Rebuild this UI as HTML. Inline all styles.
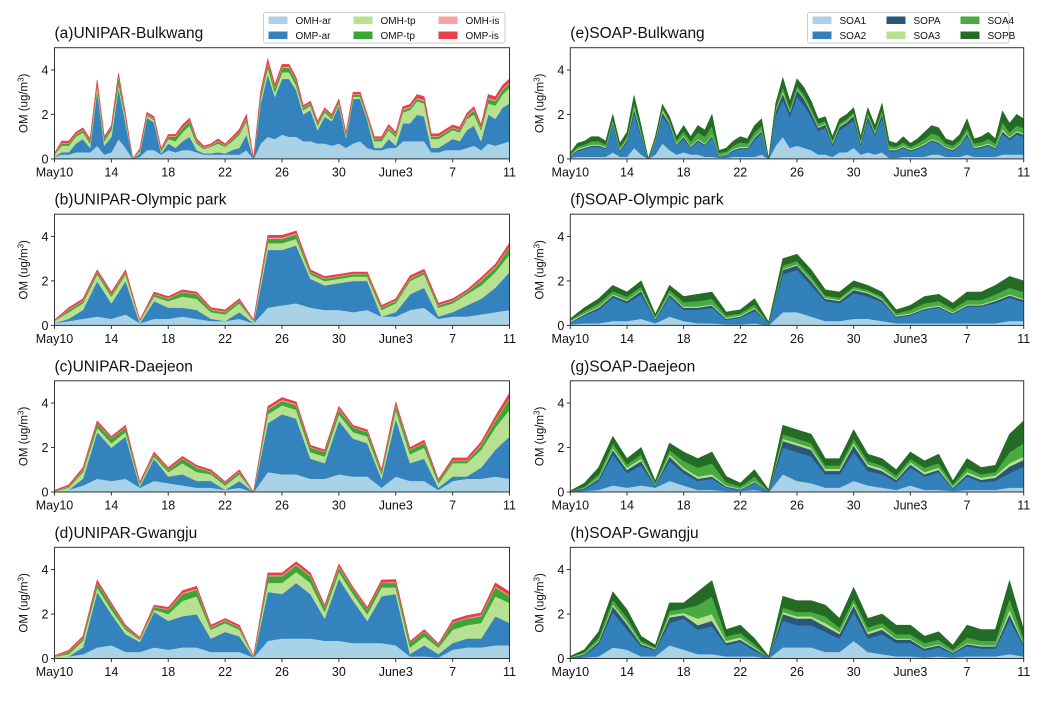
<!DOCTYPE html>
<html><head><meta charset="utf-8"><style>
html,body{margin:0;padding:0;background:#fff;}
svg{display:block;font-family:"Liberation Sans","DejaVu Sans",sans-serif;}
</style></head><body>
<svg id="fig" width="1063" height="701" viewBox="0 0 1063 701"></svg>
<script>
// ---------- data (time grid: May10 = day 0 to June11 = day 32) ----------
const xTickLabels = ["May10","14","18","22","26","30","June3","7","11"];
const xTickDays = [0,4,8,12,16,20,24,28,32];
const yTicks = [0,2,4];
const leftSeries = ["OMH-ar","OMP-ar","OMH-tp","OMP-tp","OMH-is","OMP-is"];
const rightSeries = ["SOA1","SOA2","SOPA","SOA3","SOA4","SOPB"];

// (a) UNIPAR-Bulkwang, 12-hourly
const a_OMHar = [0.1,0.2,0.2,0.3,0.3,0.3,0.6,0.2, 0.3,0.9,0.5,0,0.1,0.4,0.4,0.2, 0.4,0.3,0.4,0.4,0.3,0.2,0.2,0.2, 0.2,0.2,0.2,0.4,0,0.7,1.0,0.9, 1.1,1.0,1.0,0.8,0.8,0.7,0.7,0.6, 0.7,0.5,0.7,0.8,0.5,0.4,0.4,0.5, 0.5,0.8,0.8,0.8,0.8,0.3,0.3,0.4, 0.4,0.4,0.5,0.6,0.4,0.7,0.6,0.7, 0.8];
const a_OMPar = [0,0.1,0.1,0.4,0.6,0.2,2.5,0.4, 0.7,2.3,1.1,0,0.15,1.45,1.25,0.05, 0.3,0.2,0.4,0.6,0.1,0.05,0.05,0.1, 0.05,0.2,0.3,0.7,0,1.8,2.8,1.9, 2.5,2.6,2.1,1.2,1.4,0.6,1.2,1.1, 1.7,0.45,2.0,1.9,1.25,0.1,0.1,0.4, 0.1,0.8,0.8,1.2,1.1,0.2,0.2,0.3, 0.5,0.4,0.8,0.9,0.4,1.3,1.2,1.6, 1.7];
const a_OMHtp = [0.1,0.3,0.3,0.3,0.3,0.2,0.2,0.2, 0.3,0.2,0.2,0,0.1,0.1,0.1,0.1, 0.2,0.3,0.4,0.5,0.3,0.2,0.3,0.4, 0.3,0.4,0.6,0.6,0,0.2,0.3,0.2, 0.3,0.3,0.2,0.2,0.2,0.2,0.2,0.1, 0.1,0.1,0.1,0.1,0.1,0.3,0.3,0.4, 0.4,0.5,0.6,0.6,0.6,0.4,0.4,0.4, 0.4,0.4,0.5,0.5,0.5,0.5,0.6,0.6, 0.7];
const a_OMPtp = [0,0.1,0.1,0.1,0.1,0.1,0.1,0.1, 0.1,0.3,0.1,0,0.05,0.05,0.05,0.05, 0.1,0.2,0.2,0.2,0.1,0.05,0.05,0.1, 0.05,0.1,0.1,0.1,0,0.2,0.2,0.2, 0.2,0.2,0.2,0.1,0.1,0.1,0.1,0.1, 0.1,0.05,0.1,0.1,0.05,0.1,0.1,0.1, 0.1,0.1,0.1,0.1,0.1,0.1,0.1,0.1, 0.1,0.1,0.1,0.2,0.1,0.2,0.2,0.2, 0.2];
const a_OMHis = [0.02,0.03,0.03,0.03,0.03,0.03,0.05,0.03, 0.03,0.05,0.03,0,0.02,0.03,0.03,0.02, 0.03,0.03,0.03,0.03,0.03,0.03,0.03,0.03, 0.03,0.03,0.03,0.05,0,0.05,0.05,0.05, 0.05,0.05,0.05,0.03,0.03,0.03,0.03,0.03, 0.03,0.03,0.03,0.03,0.03,0.03,0.03,0.05, 0.03,0.05,0.05,0.05,0.05,0.03,0.03,0.03, 0.03,0.03,0.05,0.05,0.03,0.05,0.05,0.05, 0.05];
const a_OMPis = [0.03,0.07,0.07,0.07,0.07,0.07,0.1,0.07, 0.07,0.1,0.07,0,0.05,0.07,0.07,0.05, 0.07,0.07,0.1,0.1,0.07,0.05,0.05,0.07, 0.05,0.07,0.1,0.15,0,0.1,0.15,0.1, 0.1,0.1,0.1,0.07,0.07,0.07,0.07,0.07, 0.07,0.05,0.07,0.07,0.07,0.07,0.07,0.1, 0.07,0.1,0.1,0.15,0.15,0.1,0.1,0.1, 0.1,0.1,0.1,0.1,0.1,0.15,0.15,0.15, 0.15];

// (b) UNIPAR-Olympic park, daily
const b_OMHar = [0.1,0.2,0.3,0.4,0.3,0.5,0.1,0.3, 0.3,0.4,0.3,0.2,0.2,0.3,0.1,0.8, 0.9,1.0,0.8,0.7,0.7,0.6,0.7,0.4, 0.4,0.7,0.8,0.3,0.4,0.4,0.5,0.6, 0.7];
const b_OMPar = [0,0.1,0.4,1.6,0.7,1.5,0,0.8, 0.5,0.4,0.4,0.1,0,0.3,0,2.6, 2.5,2.6,1.3,1.1,1.2,1.4,1.3,0, 0.2,0.7,0.9,0.1,0.2,0.5,0.7,1.1, 1.7];
const b_OMHtp = [0.1,0.3,0.3,0.3,0.3,0.3,0.1,0.2, 0.3,0.5,0.5,0.3,0.3,0.4,0.1,0.3, 0.3,0.3,0.2,0.2,0.2,0.2,0.2,0.3, 0.4,0.6,0.6,0.4,0.4,0.5,0.6,0.7, 0.8];
const b_OMPtp = [0,0.1,0.1,0.1,0.1,0.1,0,0.1, 0.1,0.2,0.2,0.1,0.1,0.1,0,0.2, 0.2,0.2,0.1,0.1,0.1,0.1,0.1,0.1, 0.1,0.1,0.1,0.1,0.1,0.1,0.2,0.2, 0.3];
const b_OMHis = [0.02,0.03,0.03,0.03,0.03,0.03,0.02,0.03, 0.03,0.03,0.03,0.03,0.03,0.03,0.02,0.05, 0.05,0.05,0.03,0.03,0.03,0.03,0.03,0.03, 0.03,0.03,0.03,0.03,0.03,0.03,0.05,0.05, 0.05];
const b_OMPis = [0.03,0.07,0.07,0.07,0.07,0.07,0.03,0.07, 0.07,0.07,0.07,0.07,0.07,0.07,0.03,0.1, 0.1,0.1,0.07,0.07,0.07,0.07,0.07,0.07, 0.07,0.1,0.1,0.07,0.07,0.07,0.1,0.1, 0.15];

// (c) UNIPAR-Daejeon, daily
const c_OMHar = [0,0.1,0.3,0.6,0.5,0.6,0.2,0.5, 0.4,0.3,0.2,0.2,0.1,0.2,0,0.9, 0.8,0.8,0.6,0.6,0.8,0.7,0.7,0.2, 0.7,0.5,0.5,0.1,0.5,0.6,0.6,0.7, 0.6];
const c_OMPar = [0,0,0.3,2.1,1.5,1.9,0.05,1.0, 0.3,0.5,0.3,0.3,0,0.3,0,2.2, 2.7,2.5,0.9,0.7,2.4,1.7,1.5,0.4, 2.6,0.8,1.0,0.1,0.2,0.1,0.5,1.2, 1.9];
const c_OMHtp = [0.03,0.1,0.3,0.2,0.2,0.2,0.1,0.1, 0.2,0.5,0.4,0.3,0.2,0.3,0,0.4, 0.4,0.4,0.3,0.3,0.3,0.3,0.3,0.2, 0.4,0.4,0.5,0.2,0.6,0.6,0.8,1.0, 1.2];
const c_OMPtp = [0.02,0.05,0.1,0.2,0.2,0.2,0.05,0.1, 0.1,0.2,0.2,0.1,0.1,0.1,0,0.2, 0.2,0.2,0.2,0.2,0.2,0.2,0.2,0.1, 0.2,0.2,0.2,0.1,0.1,0.1,0.2,0.3, 0.5];
const c_OMHis = [0.01,0.02,0.03,0.03,0.03,0.03,0.02,0.03, 0.03,0.03,0.03,0.03,0.02,0.03,0,0.05, 0.05,0.05,0.03,0.03,0.05,0.03,0.03,0.03, 0.05,0.03,0.03,0.02,0.03,0.03,0.05,0.05, 0.05];
const c_OMPis = [0.02,0.05,0.07,0.07,0.07,0.07,0.03,0.07, 0.07,0.07,0.07,0.07,0.05,0.07,0,0.1, 0.1,0.1,0.07,0.07,0.1,0.07,0.07,0.07, 0.1,0.07,0.1,0.05,0.1,0.1,0.1,0.15, 0.2];

// (d) UNIPAR-Gwangju, daily
const d_OMHar = [0.05,0.1,0.2,0.5,0.6,0.3,0.3,0.5, 0.4,0.5,0.5,0.3,0.3,0.3,0.05,0.8, 0.9,0.9,0.9,0.8,0.8,0.7,0.7,0.7, 0.6,0.1,0.1,0.05,0.4,0.5,0.5,0.6, 0.6];
const d_OMPar = [0,0,0.3,2.5,1.4,0.8,0.45,1.6, 1.3,1.4,1.5,0.6,0.9,0.7,0,2.2, 2.0,2.5,2.0,1.0,2.8,1.9,1.0,2.1, 2.3,0.1,0.5,0.15,0.3,0.4,0.4,1.3, 1.0];
const d_OMHtp = [0.03,0.1,0.3,0.2,0.2,0.2,0.1,0.1, 0.3,0.7,0.8,0.4,0.4,0.3,0.05,0.4, 0.5,0.5,0.5,0.3,0.3,0.3,0.3,0.4, 0.3,0.3,0.4,0.3,0.6,0.6,0.7,0.9, 0.9];
const d_OMPtp = [0.02,0.1,0.1,0.2,0.2,0.1,0.05,0.1, 0.2,0.3,0.3,0.1,0.1,0.1,0,0.3, 0.3,0.3,0.3,0.2,0.2,0.2,0.2,0.2, 0.2,0.2,0.2,0.1,0.3,0.3,0.3,0.4, 0.3];
const d_OMHis = [0.01,0.02,0.03,0.03,0.03,0.03,0.02,0.03, 0.03,0.05,0.05,0.03,0.03,0.03,0,0.05, 0.05,0.05,0.05,0.03,0.05,0.03,0.03,0.03, 0.05,0.02,0.03,0.02,0.03,0.03,0.05,0.05, 0.05];
const d_OMPis = [0.02,0.05,0.07,0.1,0.07,0.07,0.03,0.07, 0.07,0.1,0.1,0.07,0.07,0.07,0,0.1, 0.1,0.1,0.1,0.07,0.1,0.07,0.07,0.1, 0.1,0.05,0.07,0.05,0.1,0.1,0.1,0.15, 0.15];

// (e) SOAP-Bulkwang, 12-hourly
const e_SOA1 = [0.05,0.1,0.1,0.1,0.1,0.1,0.3,0.1, 0.1,0.5,0.2,0,0.2,0.7,0.4,0.2, 0.3,0.2,0.2,0.1,0.1,0.05,0.05,0.1, 0.1,0.1,0.1,0.2,0,0.6,1.0,0.5, 0.6,0.5,0.4,0.2,0.2,0.1,0.3,0.3, 0.5,0.2,0.3,0.2,0.3,0.05,0.05,0.1, 0.1,0.1,0.1,0.2,0.2,0.1,0.1,0.1, 0.2,0.1,0.1,0.1,0.1,0.2,0.2,0.2, 0.2];
const e_SOA2 = [0.08,0.25,0.35,0.45,0.45,0.35,1.25,0.25, 0.65,1.55,0.8,0,0.55,1.2,1.1,0.4, 0.6,0.3,0.6,0.5,0.85,0.08,0.13,0.25, 0.35,0.35,0.75,0.95,0,1.35,1.65,1.4, 2.2,1.9,1.5,1.05,1.2,0.5,1.0,1.2, 1.25,0.4,1.45,0.85,1.55,0.3,0.3,0.4, 0.25,0.35,0.5,0.6,0.5,0.35,0.25,0.5, 0.85,0.35,0.4,0.5,0.35,0.95,0.65,0.9, 0.8];
const e_SOPA = [0.02,0.05,0.05,0.05,0.05,0.05,0.1,0.05, 0.1,0.2,0.1,0,0.05,0.2,0.1,0.05, 0.1,0.05,0.05,0.05,0.1,0.02,0.02,0.05, 0.05,0.05,0.1,0.1,0,0.2,0.3,0.2, 0.3,0.3,0.2,0.15,0.15,0.1,0.15,0.15, 0.2,0.1,0.2,0.1,0.2,0.05,0.05,0.05, 0.05,0.05,0.05,0.05,0.05,0.05,0.05,0.05, 0.1,0.05,0.05,0.05,0.05,0.1,0.1,0.1, 0.1];
const e_SOA3 = [0.02,0.05,0.05,0.05,0.05,0.05,0.05,0.05, 0.05,0.1,0.05,0,0.05,0.1,0.05,0.05, 0.05,0.05,0.05,0.05,0.05,0.03,0.03,0.05, 0.05,0.05,0.05,0.05,0,0.05,0.1,0.05, 0.05,0.05,0.05,0.05,0.05,0.05,0.05,0.05, 0.05,0.05,0.05,0.05,0.05,0.05,0.05,0.05, 0.05,0.05,0.05,0.05,0.05,0.05,0.05,0.05, 0.05,0.05,0.05,0.05,0.05,0.1,0.05,0.05, 0.05];
const e_SOA4 = [0.05,0.1,0.1,0.15,0.15,0.1,0.1,0.1, 0.1,0.2,0.15,0,0.05,0.1,0.1,0.15, 0.2,0.2,0.3,0.3,0.4,0.1,0.1,0.15, 0.2,0.15,0.2,0.2,0,0.1,0.2,0.15, 0.15,0.15,0.15,0.15,0.1,0.1,0.1,0.1, 0.1,0.1,0.1,0.1,0.1,0.15,0.1,0.15, 0.1,0.15,0.2,0.25,0.25,0.15,0.15,0.15, 0.2,0.15,0.15,0.2,0.15,0.3,0.2,0.25, 0.25];
const e_SOPB = [0.05,0.15,0.15,0.2,0.2,0.15,0.2,0.15, 0.2,0.3,0.2,0,0.1,0.15,0.15,0.15, 0.25,0.2,0.3,0.3,0.5,0.1,0.15,0.2, 0.25,0.2,0.3,0.3,0,0.2,0.4,0.3, 0.3,0.3,0.3,0.2,0.2,0.15,0.2,0.2, 0.2,0.15,0.2,0.2,0.3,0.2,0.15,0.25, 0.15,0.2,0.3,0.35,0.35,0.2,0.2,0.25, 0.4,0.2,0.25,0.3,0.2,0.5,0.4,0.5, 0.4];

// (f) SOAP-Olympic park, daily
const f_SOA1 = [0.05,0.1,0.1,0.2,0.2,0.3,0.1,0.4, 0.2,0.1,0.1,0.05,0.05,0.1,0,0.6, 0.6,0.4,0.2,0.2,0.3,0.3,0.2,0.1, 0.1,0.1,0.1,0.1,0.1,0.1,0.1,0.2, 0.2];
const f_SOA2 = [0.08,0.35,0.6,1.05,0.8,1.1,0.15,0.9, 0.5,0.6,0.7,0.2,0.3,0.55,0.1,1.7, 1.9,1.4,0.9,0.8,1.15,1.0,0.85,0.25, 0.35,0.6,0.7,0.4,0.75,0.75,0.9,1.05, 0.85];
const f_SOPA = [0.02,0.05,0.1,0.1,0.1,0.15,0.05,0.1, 0.1,0.1,0.1,0.05,0.05,0.1,0,0.2, 0.2,0.2,0.1,0.1,0.15,0.15,0.1,0.05, 0.05,0.05,0.05,0.05,0.05,0.05,0.1,0.1, 0.1];
const f_SOA3 = [0.05,0.05,0.05,0.05,0.05,0.05,0.05,0.05, 0.05,0.05,0.05,0.05,0.05,0.05,0,0.05, 0.05,0.05,0.05,0.05,0.05,0.05,0.05,0.05, 0.05,0.05,0.05,0.05,0.05,0.05,0.05,0.05, 0.05];
const f_SOA4 = [0.05,0.1,0.15,0.15,0.15,0.15,0.05,0.15, 0.2,0.25,0.25,0.1,0.1,0.15,0,0.15, 0.15,0.15,0.1,0.1,0.1,0.1,0.1,0.1, 0.15,0.2,0.2,0.15,0.2,0.2,0.25,0.3, 0.3];
const f_SOPB = [0.05,0.15,0.2,0.25,0.2,0.25,0.1,0.2, 0.25,0.3,0.3,0.15,0.15,0.25,0.05,0.3, 0.3,0.3,0.25,0.25,0.25,0.2,0.2,0.15, 0.2,0.3,0.3,0.25,0.35,0.35,0.4,0.5, 0.5];

// (g) SOAP-Daejeon, daily
const g_SOA1 = [0,0.05,0.1,0.3,0.2,0.3,0.2,0.5, 0.3,0.1,0.1,0.05,0.05,0.1,0,0.8, 0.5,0.4,0.2,0.2,0.5,0.3,0.2,0.1, 0.3,0.1,0.1,0.05,0.1,0.1,0.1,0.2, 0.2];
const g_SOA2 = [0.01,0.08,0.4,1.4,0.65,0.9,0.07,0.9, 0.55,0.4,0.5,0.15,0.04,0.3,0.05,1.2, 1.3,1.2,0.6,0.6,1.3,0.65,0.6,0.35, 0.8,0.6,0.8,0.1,0.6,0.35,0.4,0.65, 0.95];
const g_SOPA = [0.01,0.05,0.1,0.2,0.15,0.2,0.05,0.2, 0.15,0.1,0.1,0.05,0.03,0.05,0,0.3, 0.3,0.3,0.15,0.15,0.3,0.2,0.15,0.1, 0.15,0.1,0.1,0.05,0.1,0.1,0.15,0.3, 0.3];
const g_SOA3 = [0,0.02,0.05,0.1,0.1,0.1,0.03,0.1, 0.1,0.1,0.1,0.05,0.03,0.05,0,0.1, 0.1,0.1,0.1,0.1,0.1,0.1,0.1,0.05, 0.1,0.1,0.1,0.05,0.1,0.1,0.1,0.15, 0.15];
const g_SOA4 = [0.01,0.05,0.15,0.2,0.15,0.2,0.05,0.2, 0.3,0.4,0.5,0.15,0.1,0.2,0,0.2, 0.2,0.2,0.15,0.15,0.2,0.15,0.15,0.15, 0.15,0.2,0.2,0.1,0.2,0.15,0.15,0.5, 0.6];
const g_SOPB = [0.02,0.15,0.3,0.3,0.25,0.3,0.1,0.3, 0.4,0.4,0.5,0.25,0.15,0.3,0.05,0.4, 0.4,0.4,0.3,0.3,0.4,0.3,0.3,0.25, 0.3,0.3,0.4,0.15,0.4,0.3,0.3,0.8, 1.0];

// (h) SOAP-Gwangju, daily
const h_SOA1 = [0.02,0.05,0.1,0.5,0.4,0.1,0.1,0.6, 0.4,0.2,0.2,0.1,0.1,0.1,0,0.5, 0.5,0.5,0.3,0.3,0.8,0.3,0.2,0.1, 0.1,0.05,0.1,0.05,0.1,0.1,0.1,0.2, 0.1];
const h_SOA2 = [0,0.1,0.55,1.6,0.9,0.45,0.27,1.0, 1.4,1.1,1.25,0.5,0.65,0.25,0.05,1.2, 1.0,1.0,0.9,0.6,1.3,0.6,0.9,0.6, 0.6,0.3,0.4,0.17,0.45,0.35,0.35,1.55, 0.45];
const h_SOPA = [0.02,0.05,0.1,0.25,0.25,0.1,0.05,0.25, 0.15,0.2,0.25,0.1,0.1,0.1,0,0.3, 0.3,0.3,0.25,0.2,0.3,0.2,0.2,0.15, 0.15,0.1,0.1,0.05,0.1,0.1,0.1,0.25, 0.1];
const h_SOA3 = [0.01,0.03,0.05,0.1,0.1,0.05,0.03,0.1, 0.1,0.3,0.3,0.1,0.1,0.05,0,0.1, 0.1,0.1,0.15,0.1,0.1,0.1,0.1,0.05, 0.05,0.05,0.05,0.03,0.05,0.05,0.05,0.2, 0.05];
const h_SOA4 = [0.02,0.07,0.15,0.2,0.2,0.1,0.05,0.2, 0.2,0.6,0.8,0.2,0.2,0.15,0,0.2, 0.2,0.2,0.3,0.2,0.2,0.2,0.2,0.2, 0.2,0.2,0.2,0.1,0.25,0.2,0.2,0.5, 0.2];
const h_SOPB = [0.03,0.1,0.25,0.35,0.35,0.2,0.1,0.35, 0.25,0.6,0.7,0.3,0.35,0.25,0.05,0.5, 0.5,0.5,0.5,0.4,0.5,0.4,0.4,0.4, 0.4,0.3,0.35,0.2,0.55,0.5,0.5,0.8, 0.4];

// ---------- drawing ----------
const NS = "http://www.w3.org/2000/svg";
const svg = document.getElementById("fig");
function mk(tag, attrs, parent){ const e=document.createElementNS(NS,tag); for(const k in attrs) e.setAttribute(k,attrs[k]); (parent||svg).appendChild(e); return e; }

const leftColors = ["#a9d2e7","#3483be","#b7e191","#3ca634","#f6a4a3","#e8404a"];
const rightColors = ["#a9d2e7","#3381bb","#2b5677","#b7e191","#48aa40","#246b25"];

const panels = [
 {id:"a", title:"(a)UNIPAR-Bulkwang", col:0, row:0, names:leftSeries, colors:leftColors, data:[a_OMHar,a_OMPar,a_OMHtp,a_OMPtp,a_OMHis,a_OMPis]},
 {id:"b", title:"(b)UNIPAR-Olympic park", col:0, row:1, names:leftSeries, colors:leftColors, data:[b_OMHar,b_OMPar,b_OMHtp,b_OMPtp,b_OMHis,b_OMPis]},
 {id:"c", title:"(c)UNIPAR-Daejeon", col:0, row:2, names:leftSeries, colors:leftColors, data:[c_OMHar,c_OMPar,c_OMHtp,c_OMPtp,c_OMHis,c_OMPis]},
 {id:"d", title:"(d)UNIPAR-Gwangju", col:0, row:3, names:leftSeries, colors:leftColors, data:[d_OMHar,d_OMPar,d_OMHtp,d_OMPtp,d_OMHis,d_OMPis]},
 {id:"e", title:"(e)SOAP-Bulkwang", col:1, row:0, names:rightSeries, colors:rightColors, data:[e_SOA1,e_SOA2,e_SOPA,e_SOA3,e_SOA4,e_SOPB]},
 {id:"f", title:"(f)SOAP-Olympic park", col:1, row:1, names:rightSeries, colors:rightColors, data:[f_SOA1,f_SOA2,f_SOPA,f_SOA3,f_SOA4,f_SOPB]},
 {id:"g", title:"(g)SOAP-Daejeon", col:1, row:2, names:rightSeries, colors:rightColors, data:[g_SOA1,g_SOA2,g_SOPA,g_SOA3,g_SOA4,g_SOPB]},
 {id:"h", title:"(h)SOAP-Gwangju", col:1, row:3, names:rightSeries, colors:rightColors, data:[h_SOA1,h_SOA2,h_SOPA,h_SOA3,h_SOA4,h_SOPB]}
];

const colX = [[54.5,509.5],[570.3,1023.7]];
const rowTop = [47.7,214.2,380.8,547.3];
const plotH = 111.2;
const YMAX = 5, DAYS = 32;

panels.forEach(p=>{
  const [x0,x1] = colX[p.col];
  const top = rowTop[p.row], bot = top + plotH;
  const xs = d => x0 + (d/DAYS)*(x1-x0);
  const ys = v => bot - (v/YMAX)*plotH;
  const g = mk("g",{});
  
  

  const t = mk("text",{x:x0, y:top-9.5, "font-size":"15.5", fill:"#111"}, g);
  t.textContent = p.title;
  
  

  const clipId = "clip"+p.id;
  const cp = mk("clipPath",{id:clipId}, g);
  mk("rect",{x:x0,y:top,width:x1-x0,height:plotH}, cp);
  const areas = mk("g",{"clip-path":"url(#"+clipId+")"}, g);

  const n = p.data[0].length;
  const cum = new Array(n).fill(0);
  p.data.forEach((arr,si)=>{
    const lower = cum.slice();
    for(let i=0;i<n;i++) cum[i] += arr[i];
    let dpath = "";
    for(let i=0;i<n;i++){ const d=i*DAYS/(n-1); dpath += (i?"L":"M")+xs(d).toFixed(2)+","+ys(cum[i]).toFixed(2); }
    for(let i=n-1;i>=0;i--){ const d=i*DAYS/(n-1); dpath += "L"+xs(d).toFixed(2)+","+ys(lower[i]).toFixed(2); }
    dpath += "Z";
    const path = mk("path",{d:dpath, fill:p.colors[si], stroke:p.colors[si], "stroke-width":"0.6", "stroke-linejoin":"round"}, areas);
    
    
  });

  const frame = mk("rect",{x:x0,y:top,width:x1-x0,height:plotH,fill:"none",stroke:"#333","stroke-width":"1"}, g);
  
  

  yTicks.forEach(v=>{
    const y = ys(v);
    mk("line",{x1:x0-3.5,x2:x0,y1:y,y2:y,stroke:"#333","stroke-width":"1"}, g);
    const tl = mk("text",{x:x0-6,y:y+4.5,"font-size":"12.5","text-anchor":"end",fill:"#111"}, g);
    tl.textContent = v;
    
    
  });
  xTickDays.forEach((d,k)=>{
    const x = xs(d);
    mk("line",{x1:x,x2:x,y1:bot,y2:bot+3.5,stroke:"#333","stroke-width":"1"}, g);
    const tl = mk("text",{x:x,y:bot+17.5,"font-size":"12.5","text-anchor":"middle",fill:"#111"}, g);
    tl.textContent = xTickLabels[k];
    
    
  });

  const ylx = x0 - 27, yly = (top+bot)/2;
  const yl = mk("text",{x:ylx,y:yly,"font-size":"11.5","text-anchor":"middle",fill:"#111",transform:"rotate(-90 "+ylx+" "+yly+")"}, g);
  
  
  yl.textContent = "OM (ug/m";
  const sup = mk("tspan",{"font-size":"8",dy:"-4"}, yl);
  sup.textContent = "3";
  const cl = mk("tspan",{dy:"4"}, yl);
  cl.textContent = ")";
});

// legends
function legend(x,y,w,h,names,colors,cols,name){
  const g = mk("g",{});
  
  
  mk("rect",{x:x,y:y,width:w,height:h,rx:2.5,fill:"#fff",stroke:"#ccc","stroke-width":"1"}, g);
  names.forEach((nm,i)=>{
    const c = Math.floor(i/2), r = i%2;
    const px = x + 5 + cols[c], py = y + 4 + r*15;
    mk("rect",{x:px,y:py,width:19,height:7.5,fill:colors[i]}, g);
    const t = mk("text",{x:px+27,y:py+7.5,"font-size":"10",fill:"#111"}, g);
    t.textContent = nm;
    
    
  });
}
legend(263.5,12.5,241.5,30.5,leftSeries,leftColors,[0,85,170],"legend-unipar");
legend(807.5,12.5,201.5,30.5,rightSeries,rightColors,[0,74,148],"legend-soap");
</script>
</body></html>
